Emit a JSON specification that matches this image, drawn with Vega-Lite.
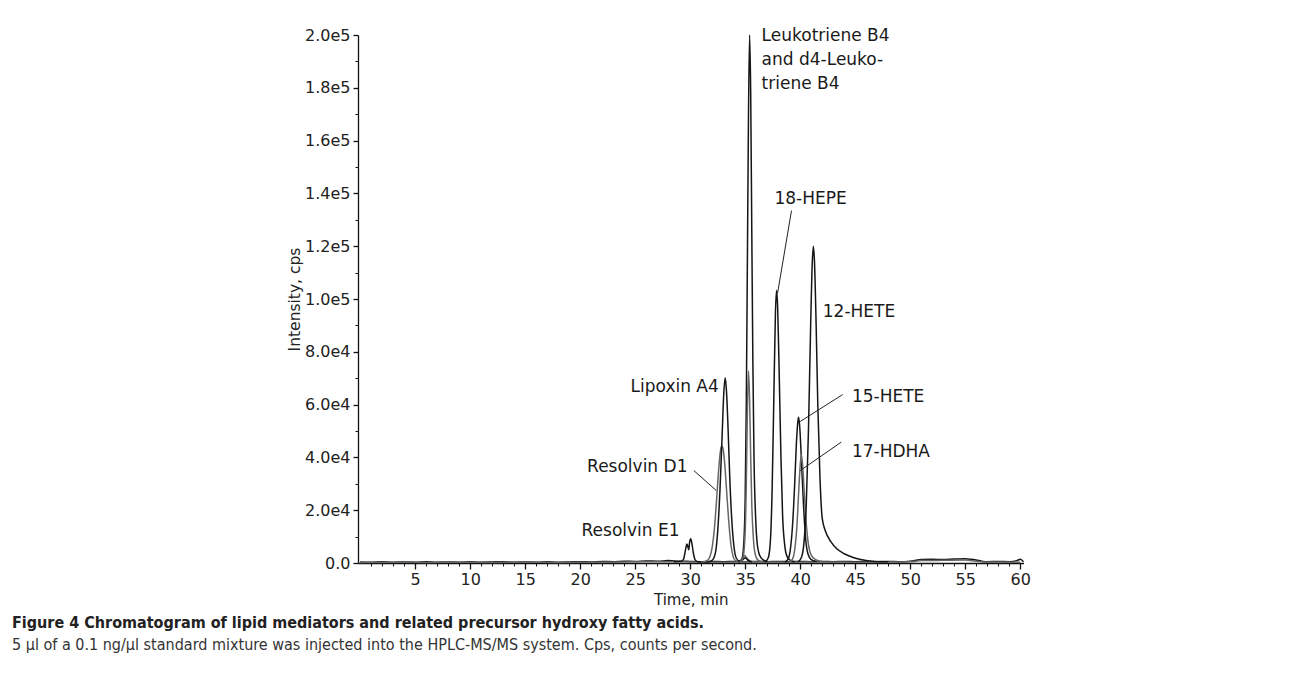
{
  "$schema": "https://vega.github.io/schema/vega-lite/v6.json",
  "width": 665.5,
  "height": 528,
  "autosize": {"type": "none"},
  "padding": {"left": 358, "top": 35, "right": 266.5, "bottom": 119},
  "background": "white",
  "config": {"view": {"stroke": null}, "font": "DejaVu Sans"},
  "title": {
    "text": "Figure 4 Chromatogram of lipid mediators and related precursor hydroxy fatty acids.",
    "subtitle": "5 µl of a 0.1 ng/µl standard mixture was injected into the HPLC-MS/MS system. Cps, counts per second.",
    "orient": "bottom",
    "anchor": "start",
    "frame": "group",
    "dx": -346,
    "offset": 8,
    "font": "Liberation Sans Narrow, DejaVu Sans Condensed, Liberation Sans",
    "fontSize": 16,
    "fontWeight": "bold",
    "color": "#222222",
    "subtitleFont": "Liberation Sans Narrow, DejaVu Sans Condensed, Liberation Sans",
    "subtitleFontSize": 16,
    "subtitleFontWeight": "normal",
    "subtitleColor": "#333333",
    "subtitlePadding": 6
  },
  "datasets": {
    "traces": [
      {"s": "Baseline A", "t": 0, "v": 400}, {"s": "Baseline A", "t": 1, "v": 300}, {"s": "Baseline A", "t": 2, "v": 500}, {"s": "Baseline A", "t": 3, "v": 300}, {"s": "Baseline A", "t": 4, "v": 400}, {"s": "Baseline A", "t": 5, "v": 300}, {"s": "Baseline A", "t": 6, "v": 500}, {"s": "Baseline A", "t": 7, "v": 300}, {"s": "Baseline A", "t": 8, "v": 400}, {"s": "Baseline A", "t": 9, "v": 300}, {"s": "Baseline A", "t": 10, "v": 500}, {"s": "Baseline A", "t": 11, "v": 300}, {"s": "Baseline A", "t": 12, "v": 400}, {"s": "Baseline A", "t": 13, "v": 500}, {"s": "Baseline A", "t": 14, "v": 300}, {"s": "Baseline A", "t": 15, "v": 400}, {"s": "Baseline A", "t": 16, "v": 300}, {"s": "Baseline A", "t": 17, "v": 500}, {"s": "Baseline A", "t": 18, "v": 300}, {"s": "Baseline A", "t": 19, "v": 400}, {"s": "Baseline A", "t": 20, "v": 500}, {"s": "Baseline A", "t": 21, "v": 400}, {"s": "Baseline A", "t": 22, "v": 600}, {"s": "Baseline A", "t": 23, "v": 500}, {"s": "Baseline A", "t": 24, "v": 700}, {"s": "Baseline A", "t": 25, "v": 600}, {"s": "Baseline A", "t": 26, "v": 800}, {"s": "Baseline A", "t": 27, "v": 700}, {"s": "Baseline A", "t": 28, "v": 900}, {"s": "Baseline A", "t": 29, "v": 700}, {"s": "Baseline A", "t": 30, "v": 600}, {"s": "Baseline A", "t": 31, "v": 500}, {"s": "Baseline A", "t": 32, "v": 600}, {"s": "Baseline A", "t": 33, "v": 500}, {"s": "Baseline A", "t": 34, "v": 600}, {"s": "Baseline A", "t": 35, "v": 500}, {"s": "Baseline A", "t": 36, "v": 600}, {"s": "Baseline A", "t": 37, "v": 500}, {"s": "Baseline A", "t": 38, "v": 600}, {"s": "Baseline A", "t": 39, "v": 500}, {"s": "Baseline A", "t": 40, "v": 600}, {"s": "Baseline A", "t": 41, "v": 500}, {"s": "Baseline A", "t": 42, "v": 600}, {"s": "Baseline A", "t": 43, "v": 500}, {"s": "Baseline A", "t": 44, "v": 600}, {"s": "Baseline A", "t": 45, "v": 500}, {"s": "Baseline A", "t": 46, "v": 600}, {"s": "Baseline A", "t": 47, "v": 500}, {"s": "Baseline A", "t": 48, "v": 600}, {"s": "Baseline A", "t": 49, "v": 500}, {"s": "Baseline A", "t": 50, "v": 700}, {"s": "Baseline A", "t": 50.5, "v": 1000}, {"s": "Baseline A", "t": 51, "v": 1300}, {"s": "Baseline A", "t": 52, "v": 1400}, {"s": "Baseline A", "t": 53, "v": 1300}, {"s": "Baseline A", "t": 54, "v": 1500}, {"s": "Baseline A", "t": 55, "v": 1600}, {"s": "Baseline A", "t": 55.5, "v": 1400}, {"s": "Baseline A", "t": 56, "v": 1100}, {"s": "Baseline A", "t": 56.5, "v": 700}, {"s": "Baseline A", "t": 57, "v": 500}, {"s": "Baseline A", "t": 58, "v": 600}, {"s": "Baseline A", "t": 59, "v": 500}, {"s": "Baseline A", "t": 59.7, "v": 900}, {"s": "Baseline A", "t": 60, "v": 1400}, {"s": "Baseline A", "t": 60.3, "v": 500},
      {"s": "Baseline B", "t": 0, "v": 200}, {"s": "Baseline B", "t": 3, "v": 300}, {"s": "Baseline B", "t": 6, "v": 200}, {"s": "Baseline B", "t": 9, "v": 300}, {"s": "Baseline B", "t": 12, "v": 200}, {"s": "Baseline B", "t": 15, "v": 300}, {"s": "Baseline B", "t": 18, "v": 200}, {"s": "Baseline B", "t": 21, "v": 300}, {"s": "Baseline B", "t": 24, "v": 400}, {"s": "Baseline B", "t": 27, "v": 500}, {"s": "Baseline B", "t": 30, "v": 400}, {"s": "Baseline B", "t": 33, "v": 300}, {"s": "Baseline B", "t": 36, "v": 400}, {"s": "Baseline B", "t": 39, "v": 300}, {"s": "Baseline B", "t": 42, "v": 400}, {"s": "Baseline B", "t": 45, "v": 300}, {"s": "Baseline B", "t": 48, "v": 400}, {"s": "Baseline B", "t": 50, "v": 500}, {"s": "Baseline B", "t": 51, "v": 900}, {"s": "Baseline B", "t": 53, "v": 1000}, {"s": "Baseline B", "t": 55, "v": 1100}, {"s": "Baseline B", "t": 56, "v": 700}, {"s": "Baseline B", "t": 57, "v": 400}, {"s": "Baseline B", "t": 60, "v": 300},
      {"s": "Resolvin E1", "t": 28.5, "v": 500}, {"s": "Resolvin E1", "t": 29.2, "v": 700}, {"s": "Resolvin E1", "t": 29.4, "v": 1500}, {"s": "Resolvin E1", "t": 29.55, "v": 4500}, {"s": "Resolvin E1", "t": 29.7, "v": 7200}, {"s": "Resolvin E1", "t": 29.8, "v": 6000}, {"s": "Resolvin E1", "t": 29.87, "v": 5000}, {"s": "Resolvin E1", "t": 29.95, "v": 8000}, {"s": "Resolvin E1", "t": 30.05, "v": 9200}, {"s": "Resolvin E1", "t": 30.15, "v": 7500}, {"s": "Resolvin E1", "t": 30.3, "v": 3500}, {"s": "Resolvin E1", "t": 30.45, "v": 1200}, {"s": "Resolvin E1", "t": 30.7, "v": 500}, {"s": "Resolvin E1", "t": 31.5, "v": 400},
      {"s": "Resolvin D1", "t": 31.0, "v": 300}, {"s": "Resolvin D1", "t": 31.5, "v": 800}, {"s": "Resolvin D1", "t": 31.8, "v": 2500}, {"s": "Resolvin D1", "t": 32.0, "v": 6000}, {"s": "Resolvin D1", "t": 32.2, "v": 13000}, {"s": "Resolvin D1", "t": 32.4, "v": 24000}, {"s": "Resolvin D1", "t": 32.6, "v": 36000}, {"s": "Resolvin D1", "t": 32.75, "v": 42500}, {"s": "Resolvin D1", "t": 32.87, "v": 44300}, {"s": "Resolvin D1", "t": 33.0, "v": 43000}, {"s": "Resolvin D1", "t": 33.15, "v": 37000}, {"s": "Resolvin D1", "t": 33.3, "v": 28000}, {"s": "Resolvin D1", "t": 33.5, "v": 16000}, {"s": "Resolvin D1", "t": 33.7, "v": 7000}, {"s": "Resolvin D1", "t": 33.9, "v": 2500}, {"s": "Resolvin D1", "t": 34.1, "v": 1000}, {"s": "Resolvin D1", "t": 34.4, "v": 600}, {"s": "Resolvin D1", "t": 34.7, "v": 1500}, {"s": "Resolvin D1", "t": 34.95, "v": 2800}, {"s": "Resolvin D1", "t": 35.2, "v": 1600}, {"s": "Resolvin D1", "t": 35.5, "v": 600}, {"s": "Resolvin D1", "t": 36.0, "v": 400},
      {"s": "Lipoxin A4", "t": 31.5, "v": 300}, {"s": "Lipoxin A4", "t": 32.0, "v": 1000}, {"s": "Lipoxin A4", "t": 32.3, "v": 4000}, {"s": "Lipoxin A4", "t": 32.5, "v": 12000}, {"s": "Lipoxin A4", "t": 32.7, "v": 27000}, {"s": "Lipoxin A4", "t": 32.9, "v": 48000}, {"s": "Lipoxin A4", "t": 33.05, "v": 64000}, {"s": "Lipoxin A4", "t": 33.18, "v": 70200}, {"s": "Lipoxin A4", "t": 33.3, "v": 65000}, {"s": "Lipoxin A4", "t": 33.45, "v": 50000}, {"s": "Lipoxin A4", "t": 33.6, "v": 32000}, {"s": "Lipoxin A4", "t": 33.8, "v": 15000}, {"s": "Lipoxin A4", "t": 34.0, "v": 5500}, {"s": "Lipoxin A4", "t": 34.2, "v": 1800}, {"s": "Lipoxin A4", "t": 34.5, "v": 700}, {"s": "Lipoxin A4", "t": 34.8, "v": 1300}, {"s": "Lipoxin A4", "t": 35.0, "v": 2000}, {"s": "Lipoxin A4", "t": 35.2, "v": 1200}, {"s": "Lipoxin A4", "t": 35.6, "v": 400},
      {"s": "Leukotriene B4", "t": 34.4, "v": 300}, {"s": "Leukotriene B4", "t": 34.7, "v": 1500}, {"s": "Leukotriene B4", "t": 34.85, "v": 6000}, {"s": "Leukotriene B4", "t": 35.0, "v": 25000}, {"s": "Leukotriene B4", "t": 35.1, "v": 60000}, {"s": "Leukotriene B4", "t": 35.2, "v": 115000}, {"s": "Leukotriene B4", "t": 35.3, "v": 170000}, {"s": "Leukotriene B4", "t": 35.4, "v": 200000}, {"s": "Leukotriene B4", "t": 35.5, "v": 178000}, {"s": "Leukotriene B4", "t": 35.6, "v": 125000}, {"s": "Leukotriene B4", "t": 35.7, "v": 75000}, {"s": "Leukotriene B4", "t": 35.8, "v": 40000}, {"s": "Leukotriene B4", "t": 35.95, "v": 17000}, {"s": "Leukotriene B4", "t": 36.1, "v": 7000}, {"s": "Leukotriene B4", "t": 36.3, "v": 3000}, {"s": "Leukotriene B4", "t": 36.6, "v": 1300}, {"s": "Leukotriene B4", "t": 37.0, "v": 600},
      {"s": "d4-Leukotriene B4", "t": 34.5, "v": 300}, {"s": "d4-Leukotriene B4", "t": 34.8, "v": 2000}, {"s": "d4-Leukotriene B4", "t": 35.0, "v": 12000}, {"s": "d4-Leukotriene B4", "t": 35.1, "v": 30000}, {"s": "d4-Leukotriene B4", "t": 35.2, "v": 58000}, {"s": "d4-Leukotriene B4", "t": 35.3, "v": 72700}, {"s": "d4-Leukotriene B4", "t": 35.4, "v": 62000}, {"s": "d4-Leukotriene B4", "t": 35.5, "v": 40000}, {"s": "d4-Leukotriene B4", "t": 35.6, "v": 22000}, {"s": "d4-Leukotriene B4", "t": 35.75, "v": 9000}, {"s": "d4-Leukotriene B4", "t": 35.9, "v": 3500}, {"s": "d4-Leukotriene B4", "t": 36.2, "v": 1000}, {"s": "d4-Leukotriene B4", "t": 36.6, "v": 400},
      {"s": "18-HEPE", "t": 36.8, "v": 400}, {"s": "18-HEPE", "t": 37.1, "v": 2000}, {"s": "18-HEPE", "t": 37.3, "v": 9000}, {"s": "18-HEPE", "t": 37.45, "v": 28000}, {"s": "18-HEPE", "t": 37.6, "v": 62000}, {"s": "18-HEPE", "t": 37.75, "v": 95000}, {"s": "18-HEPE", "t": 37.85, "v": 103200}, {"s": "18-HEPE", "t": 37.95, "v": 97000}, {"s": "18-HEPE", "t": 38.1, "v": 70000}, {"s": "18-HEPE", "t": 38.25, "v": 40000}, {"s": "18-HEPE", "t": 38.4, "v": 18000}, {"s": "18-HEPE", "t": 38.6, "v": 6500}, {"s": "18-HEPE", "t": 38.8, "v": 2500}, {"s": "18-HEPE", "t": 39.1, "v": 1000}, {"s": "18-HEPE", "t": 39.5, "v": 500},
      {"s": "15-HETE", "t": 38.6, "v": 400}, {"s": "15-HETE", "t": 38.9, "v": 1500}, {"s": "15-HETE", "t": 39.1, "v": 5000}, {"s": "15-HETE", "t": 39.3, "v": 14000}, {"s": "15-HETE", "t": 39.5, "v": 30000}, {"s": "15-HETE", "t": 39.65, "v": 45000}, {"s": "15-HETE", "t": 39.8, "v": 54000}, {"s": "15-HETE", "t": 39.85, "v": 55200}, {"s": "15-HETE", "t": 39.95, "v": 52000}, {"s": "15-HETE", "t": 40.1, "v": 40000}, {"s": "15-HETE", "t": 40.3, "v": 22000}, {"s": "15-HETE", "t": 40.5, "v": 9000}, {"s": "15-HETE", "t": 40.7, "v": 3500}, {"s": "15-HETE", "t": 41.0, "v": 1300}, {"s": "15-HETE", "t": 41.5, "v": 600},
      {"s": "17-HDHA", "t": 39.0, "v": 400}, {"s": "17-HDHA", "t": 39.3, "v": 1500}, {"s": "17-HDHA", "t": 39.5, "v": 5000}, {"s": "17-HDHA", "t": 39.7, "v": 14000}, {"s": "17-HDHA", "t": 39.85, "v": 26000}, {"s": "17-HDHA", "t": 40.0, "v": 37000}, {"s": "17-HDHA", "t": 40.1, "v": 41000}, {"s": "17-HDHA", "t": 40.2, "v": 38000}, {"s": "17-HDHA", "t": 40.35, "v": 28000}, {"s": "17-HDHA", "t": 40.55, "v": 15000}, {"s": "17-HDHA", "t": 40.75, "v": 7000}, {"s": "17-HDHA", "t": 41.0, "v": 3000}, {"s": "17-HDHA", "t": 41.4, "v": 1300}, {"s": "17-HDHA", "t": 42.0, "v": 600},
      {"s": "12-HETE", "t": 39.8, "v": 500}, {"s": "12-HETE", "t": 40.1, "v": 2000}, {"s": "12-HETE", "t": 40.35, "v": 8000}, {"s": "12-HETE", "t": 40.55, "v": 22000}, {"s": "12-HETE", "t": 40.75, "v": 50000}, {"s": "12-HETE", "t": 40.95, "v": 90000}, {"s": "12-HETE", "t": 41.1, "v": 114000}, {"s": "12-HETE", "t": 41.2, "v": 120000}, {"s": "12-HETE", "t": 41.3, "v": 114000}, {"s": "12-HETE", "t": 41.45, "v": 90000}, {"s": "12-HETE", "t": 41.6, "v": 60000}, {"s": "12-HETE", "t": 41.8, "v": 32000}, {"s": "12-HETE", "t": 42.0, "v": 17000}, {"s": "12-HETE", "t": 42.3, "v": 12000}, {"s": "12-HETE", "t": 42.8, "v": 8000}, {"s": "12-HETE", "t": 43.3, "v": 5500}, {"s": "12-HETE", "t": 44.0, "v": 3500}, {"s": "12-HETE", "t": 44.75, "v": 2200}, {"s": "12-HETE", "t": 45.5, "v": 1300}, {"s": "12-HETE", "t": 46.5, "v": 700}, {"s": "12-HETE", "t": 48.0, "v": 500}
    ],
    "labelsLeft": [
      {"label": "18-HEPE", "t": 37.66, "v": 137700},
      {"label": "12-HETE", "t": 42.05, "v": 94900},
      {"label": "15-HETE", "t": 44.7, "v": 62700},
      {"label": "17-HDHA", "t": 44.7, "v": 42200}
    ],
    "labelsRight": [
      {"label": "Lipoxin A4", "t": 32.6, "v": 66500},
      {"label": "Resolvin D1", "t": 29.75, "v": 36200},
      {"label": "Resolvin E1", "t": 29.03, "v": 12000}
    ],
    "labelTop": [
      {"label": "Leukotriene B4\nand d4-Leuko-\ntriene B4", "t": 36.49, "v": 202500}
    ],
    "leaders": [
      {"label": "18-HEPE", "t": 39.21, "v": 133500, "t2": 37.94, "v2": 102100},
      {"label": "15-HETE", "t": 43.86, "v": 63800, "t2": 40.0, "v2": 53600},
      {"label": "17-HDHA", "t": 43.74, "v": 45800, "t2": 40.0, "v2": 35000},
      {"label": "Resolvin D1", "t": 30.33, "v": 35000, "t2": 32.36, "v2": 27500}
    ]
  },
  "resolve": {"axis": {"x": "independent", "y": "independent"}},
  "layer": [
    {
      "data": {"name": "traces"},
      "mark": {"type": "line", "interpolate": "monotone", "strokeWidth": 1.5, "clip": false},
      "encoding": {
        "x": {
          "field": "t", "type": "quantitative",
          "scale": {"domain": [-0.2, 60.3], "nice": false, "zero": false},
          "axis": {
            "orient": "bottom", "title": "Time, min", "values": [5, 10, 15, 20, 25, 30, 35, 40, 45, 50, 55, 60],
            "grid": false, "domainColor": "#111111", "domainWidth": 1.3, "tickColor": "#111111", "tickSize": 6, "tickWidth": 1.3,
            "labelFont": "DejaVu Sans", "labelFontSize": 16, "labelColor": "#222222", "labelPadding": 2,
            "titleFont": "DejaVu Sans", "titleFontSize": 15, "titleFontWeight": "normal", "titleColor": "#222222", "titlePadding": 5
          }
        },
        "y": {
          "field": "v", "type": "quantitative",
          "scale": {"domain": [0, 200000], "nice": false},
          "axis": {
            "orient": "left", "title": "Intensity, cps", "values": [0, 20000, 40000, 60000, 80000, 100000, 120000, 140000, 160000, 180000, 200000],
            "labelExpr": "datum.value == 0 ? '0.0' : replace(format(datum.value, '.1e'), '+', '')",
            "grid": false, "domainColor": "#111111", "domainWidth": 1.3, "tickColor": "#111111", "tickSize": 5, "tickWidth": 1.3,
            "labelFont": "DejaVu Sans", "labelFontSize": 16, "labelColor": "#222222", "labelPadding": 3,
            "titleFont": "DejaVu Sans", "titleFontSize": 15.5, "titleFontWeight": "normal", "titleColor": "#222222", "titlePadding": 2
          }
        },
        "color": {
          "field": "s", "type": "nominal", "legend": null,
          "scale": {
            "domain": ["Baseline A", "Baseline B", "Resolvin E1", "Resolvin D1", "Lipoxin A4", "Leukotriene B4", "d4-Leukotriene B4", "18-HEPE", "15-HETE", "17-HDHA", "12-HETE"],
            "range": ["#151515", "#666666", "#151515", "#666666", "#151515", "#151515", "#666666", "#151515", "#151515", "#666666", "#151515"]
          }
        }
      }
    },
    {
      "data": {"name": "leaders"},
      "mark": {"type": "rule", "color": "#222222", "strokeWidth": 1},
      "encoding": {
        "x": {
          "field": "t", "type": "quantitative",
          "axis": {
            "orient": "bottom", "title": null, "labels": false, "domain": false, "grid": false,
            "values": [1,2,3,4,6,7,8,9,11,12,13,14,16,17,18,19,21,22,23,24,26,27,28,29,31,32,33,34,36,37,38,39,41,42,43,44,46,47,48,49,51,52,53,54,56,57,58,59],
            "tickColor": "#111111", "tickSize": 3, "tickWidth": 1
          }
        },
        "y": {
          "field": "v", "type": "quantitative",
          "axis": {
            "orient": "left", "title": null, "labels": false, "domain": false, "grid": false,
            "values": [10000, 30000, 50000, 70000, 90000, 110000, 130000, 150000, 170000, 190000],
            "tickColor": "#111111", "tickSize": 3, "tickWidth": 1
          }
        },
        "x2": {"field": "t2"},
        "y2": {"field": "v2"}
      }
    },
    {
      "data": {"name": "labelsLeft"},
      "mark": {"type": "text", "align": "left", "baseline": "middle", "font": "DejaVu Sans", "fontSize": 17, "color": "#1a1a1a"},
      "encoding": {
        "x": {"field": "t", "type": "quantitative", "axis": null},
        "y": {"field": "v", "type": "quantitative", "axis": null},
        "text": {"field": "label"}
      }
    },
    {
      "data": {"name": "labelsRight"},
      "mark": {"type": "text", "align": "right", "baseline": "middle", "font": "DejaVu Sans", "fontSize": 17, "color": "#1a1a1a"},
      "encoding": {
        "x": {"field": "t", "type": "quantitative", "axis": null},
        "y": {"field": "v", "type": "quantitative", "axis": null},
        "text": {"field": "label"}
      }
    },
    {
      "data": {"name": "labelTop"},
      "mark": {"type": "text", "align": "left", "baseline": "top", "lineBreak": "\n", "lineHeight": 24, "font": "DejaVu Sans", "fontSize": 17, "color": "#1a1a1a"},
      "encoding": {
        "x": {"field": "t", "type": "quantitative", "axis": null},
        "y": {"field": "v", "type": "quantitative", "axis": null},
        "text": {"field": "label"}
      }
    }
  ]
}
